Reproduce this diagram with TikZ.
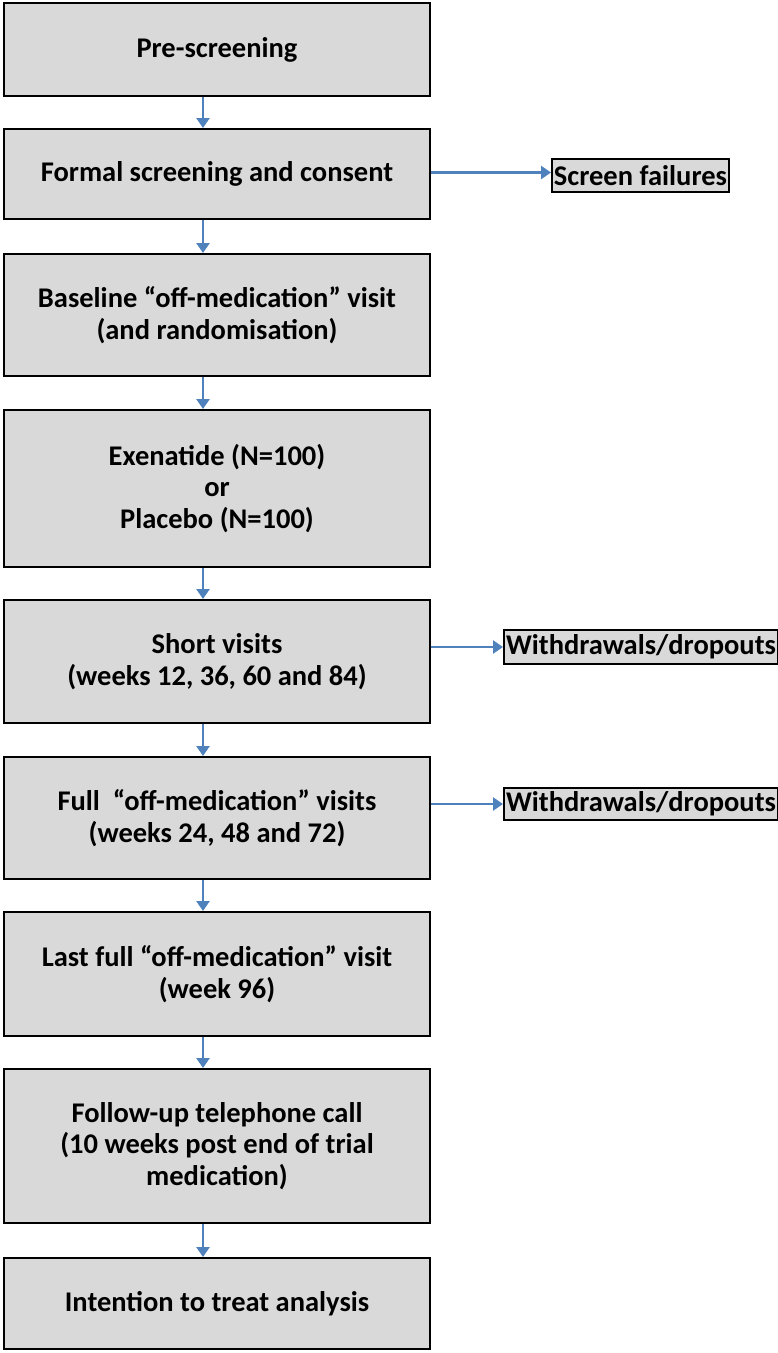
\documentclass[tikz,border=0pt]{standalone}
\usepackage{fontspec}
\setmainfont{Carlito}
\usetikzlibrary{arrows.meta}
\definecolor{boxgray}{HTML}{D9D9D9}
\definecolor{arrblue}{HTML}{4F81BD}
\tikzset{
  x=1pt, y=-1pt,
  stagebox/.style={draw=black, line width=2pt, fill=boxgray, anchor=north west,
    minimum width=426pt, inner sep=0pt, align=center,
    font=\bfseries\fontsize{28.5}{31.5}\selectfont},
  sidebox/.style={draw=black, line width=2pt, fill=boxgray, anchor=north west,
    inner sep=0pt, align=center, font=\bfseries\fontsize{28.5}{31.5}\selectfont},
  arr/.style={draw=arrblue, line width=2.5pt, -{Triangle[width=13pt,length=10pt]}},
}
\begin{document}
\begin{tikzpicture}
\useasboundingbox (0,0) rectangle (778,1353);
\node[stagebox, minimum height=93pt] (b1) at (3,2) {Pre-screening};
\node[stagebox, minimum height=90pt] (b2) at (3,128) {Formal screening and consent};
\node[stagebox, minimum height=122pt] (b3) at (3,253) {Baseline “off-medication” visit\\(and randomisation)};
\node[stagebox, minimum height=157pt] (b4) at (3,409) {Exenatide (N=100)\\or\\Placebo (N=100)};
\node[stagebox, minimum height=123pt] (b5) at (3,599) {Short visits\\(weeks 12, 36, 60 and 84)};
\node[stagebox, minimum height=122pt] (b6) at (3,756) {Full\ \ “off-medication” visits\\(weeks 24, 48 and 72)};
\node[stagebox, minimum height=124pt] (b7) at (3,911) {Last full “off-medication” visit\\(week 96)};
\node[stagebox, minimum height=154pt] (b8) at (3,1068) {Follow-up telephone call\\(10 weeks post end of trial\\medication)};
\node[stagebox, minimum height=91pt] (b9) at (3,1257) {Intention to treat analysis};

\node[sidebox, minimum width=177pt, minimum height=33pt] (sf) at (551,158) {Screen failures};
\node[sidebox, minimum width=274pt, minimum height=34pt] (w1) at (503,629) {Withdrawals/dropouts};
\node[sidebox, minimum width=274pt, minimum height=32pt] (w2) at (503,787) {Withdrawals/dropouts};

\foreach \a/\b in {b1/b2,b2/b3,b3/b4,b4/b5,b5/b6,b6/b7,b7/b8,b8/b9}
  \draw[arr] ([xshift=-14pt]\a.south) -- ([xshift=-14pt]\b.north);

\draw[arr] ([yshift=1.5pt]b2.east) -- ([yshift=1.5pt]b2.east -| sf.west);
\draw[arr] (b5.east |- w1.west) -- (w1.west);
\draw[arr] (b6.east |- w2.west) -- (w2.west);
\end{tikzpicture}
\end{document}
